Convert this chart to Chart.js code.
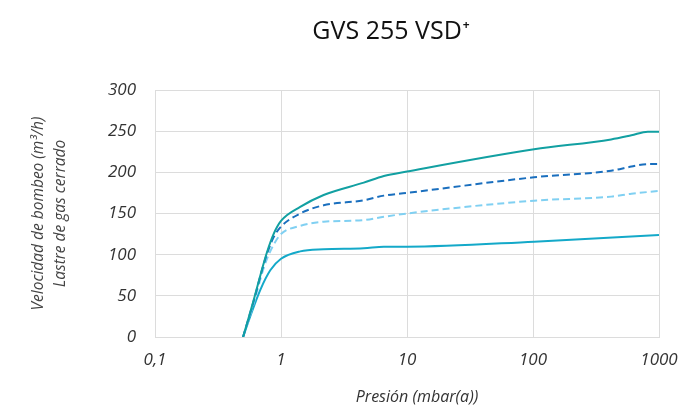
<!DOCTYPE html>
<html>
<head>
<meta charset="utf-8">
<script src="https://cdn.jsdelivr.net/npm/chart.js@4/dist/chart.umd.min.js"></script>
<style>
  html, body { margin: 0; padding: 0; background: #fff; }
  #wrap { width: 683px; height: 410px; position: relative; }
</style>
</head>
<body>
<div id="wrap"><canvas id="c" width="683" height="410"></canvas></div>
<script>
// Pressure values (mbar(a)) and pumping speeds (m³/h) for each curve
const topP    = [0.5, 0.605, 0.706, 0.774, 0.873, 1, 1.42, 2.18, 4.54, 6.55, 10, 102, 417, 604, 815, 1000];
const topV    = [0, 44, 82, 103, 125, 141, 158, 172.5, 187.5, 195.6, 201, 228, 240, 245, 249.4, 249.4];
const darkP   = [0.5, 0.605, 0.706, 0.774, 0.873, 1, 1.42, 2.18, 4.54, 6.55, 10, 102, 417, 604, 815, 1000];
const darkV   = [0, 43, 81, 101, 121, 134, 150, 160, 166, 171.7, 175, 194, 202, 207, 210, 210];
const lightP  = [0.5, 0.605, 0.706, 0.774, 0.873, 1, 1.42, 2.18, 4.54, 6.55, 10, 102, 417, 604, 1000];
const lightV  = [0, 40, 77, 95, 112, 125, 135, 140, 142, 146, 150, 165.6, 170.5, 174, 177.4];
const bottomP = [0.5, 0.570, 0.684, 0.822, 1, 1.42, 2.18, 4.54, 6.55, 10, 102, 1000];
const bottomV = [0, 25, 57, 81, 95, 104, 106.5, 107.7, 109.7, 109.7, 115.8, 124];
const xTicks = [0.1, 1, 10, 100, 1000];
const yTicks = [0, 50, 100, 150, 200, 250, 300];
const titleMain = 'GVS 255 VSD';
const titleSup = '+';
const xTitle = 'Presión (mbar(a))';
const yTitle = ['Velocidad de bombeo (m³/h)', 'Lastre de gas cerrado'];

function pts(ps, vs) { return ps.map((p, i) => ({ x: p, y: vs[i] })); }

const FONT = '"Open Sans", "Noto Sans", sans-serif';

const textPlugin = {
  id: 'customTexts',
  afterDraw(chart) {
    const ctx = chart.ctx;
    ctx.save();
    // Chart title with superscript plus
    ctx.fillStyle = '#111';
    ctx.textBaseline = 'alphabetic';
    ctx.font = '25px ' + FONT;
    const w1 = ctx.measureText(titleMain).width;
    ctx.font = 'bold 12px ' + FONT;
    const w2 = ctx.measureText(titleSup).width;
    const cx = 391;
    const x0 = cx - (w1 + w2 + 1) / 2;
    ctx.font = '25px ' + FONT;
    ctx.textAlign = 'left';
    ctx.fillText(titleMain, x0, 39);
    ctx.font = 'bold 12px ' + FONT;
    ctx.fillText(titleSup, x0 + w1 + 1, 29);
    // X axis title
    ctx.fillStyle = '#333';
    ctx.font = 'italic 16px ' + FONT;
    ctx.textAlign = 'center';
    ctx.textBaseline = 'middle';
    ctx.fillText(xTitle, 417, 397);
    ctx.restore();
  }
};

new Chart(document.getElementById('c'), {
  type: 'line',
  data: {
    datasets: [
      { label: 'A', data: pts(topP, topV), borderColor: '#12a0a2', borderWidth: 2 },
      { label: 'B', data: pts(darkP, darkV), borderColor: '#1a6fbe', borderWidth: 2, borderDash: [7, 4] },
      { label: 'C', data: pts(lightP, lightV), borderColor: '#80d0f2', borderWidth: 2, borderDash: [7, 4] },
      { label: 'D', data: pts(bottomP, bottomV), borderColor: '#14a9c9', borderWidth: 2 }
    ]
  },
  plugins: [textPlugin],
  options: {
    responsive: false,
    animation: false,
    elements: { point: { radius: 0 }, line: { cubicInterpolationMode: 'monotone', fill: false } },
    layout: { padding: { left: 0, right: 24, top: 90, bottom: 0 } },
    plugins: {
      legend: { display: false },
      tooltip: { enabled: false },
      title: { display: false }
    },
    scales: {
      x: {
        type: 'logarithmic',
        min: 0.1,
        max: 1000,
        afterBuildTicks: (s) => { s.ticks = xTicks.map(v => ({ value: v })); },
        afterFit: (s) => { s.height = 73; s.paddingRight = 0; s.paddingLeft = 0; },
        grid: { color: '#dcdcdc', lineWidth: 1, drawTicks: false },
        border: { color: '#dcdcdc' },
        ticks: {
          padding: 13,
          color: '#333',
          font: { family: FONT, size: 17, style: 'italic' },
          maxRotation: 0,
          autoSkip: false,
          callback: (v) => String(v).replace('.', ',')
        },
        title: { display: false }
      },
      y: {
        min: 0,
        max: 300,
        afterBuildTicks: (s) => { s.ticks = yTicks.map(v => ({ value: v })); },
        afterFit: (s) => { s.width = 155; },
        grid: { color: '#dcdcdc', lineWidth: 1, drawTicks: false },
        border: { color: '#dcdcdc' },
        ticks: {
          padding: 19,
          color: '#333',
          font: { family: FONT, size: 17, style: 'italic' }
        },
        title: {
          display: true,
          text: yTitle,
          color: '#444',
          font: { family: FONT, size: 15.5, style: 'italic', lineHeight: 1.4 },
          padding: { top: 28, bottom: 0 }
        }
      }
    }
  }
});
</script>
</body>
</html>
